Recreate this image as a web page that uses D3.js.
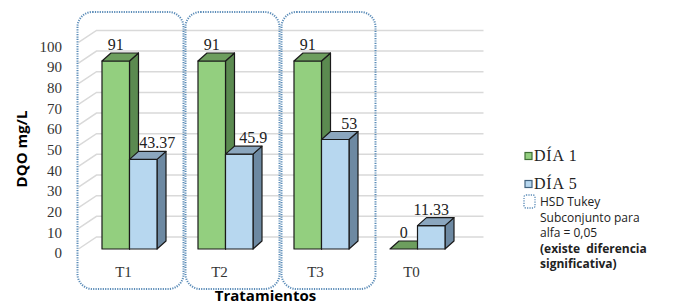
<!DOCTYPE html>
<html>
<head>
<meta charset="utf-8">
<script src="https://cdn.jsdelivr.net/npm/d3@7"></script>
<style>
  html, body { margin: 0; padding: 0; background: #fff; }
  svg { display: block; }
</style>
</head>
<body>
<div id="chart"></div>
<script>
// data
var categories = ["T1", "T2", "T3", "T0"];
var seriesNames = ["DÍA 1", "DÍA 5"];
var dia1 = [91, 91, 91, 0];
var dia5 = [43.37, 45.9, 53, 11.33];
var yTicks = [0, 10, 20, 30, 40, 50, 60, 70, 80, 90, 100];
var tukeyGroups = ["T1", "T2", "T3"];
var noteLines = ["HSD Tukey", "Subconjunto para", "alfa = 0,05", "(existe  diferencia", "significativa)"];

var width = 678, height = 306;
var serif = "'Liberation Serif', 'Times New Roman', serif";
var sans = "'Open Sans', 'Liberation Sans', sans-serif";

var colors = {
    front: ["#93cf7f", "#b7d7ef"],
    top: ["#6d9e5e", "#8ba6be"],
    side: ["#5b8a50", "#6d89a2"]
};

// 3d offsets
var floorDx = 18, floorDy = -12;
var barDx = 9, barDy = -8;

var svg = d3.select("#chart").append("svg").attr("width", width).attr("height", height);

var x = d3.scaleBand().domain(categories).range([81.5, 465.5]).paddingInner(0.427).paddingOuter(0.2135);
var xs = d3.scaleBand().domain(seriesNames).range([0, x.bandwidth()]);
var y = d3.scaleLinear().domain([0, 100]).range([249, 42.4]);

// back wall / floor grid
var grid = svg.append("g");
var gx0 = x.range()[0] - 3;
yTicks.forEach(function(t) {
    var yy = y(t);
    grid.append("polyline")
        .attr("points", [[gx0, yy], [gx0 + floorDx, yy + floorDy], [x.range()[1] + floorDx, yy + floorDy]].join(" "))
        .attr("fill", "none")
        .attr("stroke", "#d9d9d9")
        .attr("stroke-width", 1.5);
});

// tick labels
svg.append("g").selectAll("text").data(yTicks).join("text")
    .attr("x", 62)
    .attr("y", function(d) { return y(d) + 6; })
    .attr("text-anchor", "end")
    .attr("dominant-baseline", "middle")
    .attr("font-family", serif)
    .attr("font-size", 15)
    .attr("fill", "#333")
    .text(function(d) { return d; });

// bars
var bars = svg.append("g");
categories.forEach(function(c, i) {
    var vals = [dia1[i], dia5[i]];
    seriesNames.forEach(function(s, k) {
        var v = vals[k];
        var x0 = x(c) + xs(s), x1 = x0 + xs.bandwidth();
        var y0 = y(0), y1 = y(v);
        var g = bars.append("g").attr("stroke", "#1a1a1a").attr("stroke-width", 1.2).attr("stroke-linejoin", "round");
        if (v > 0) {
            g.append("polygon")
                .attr("points", [[x1, y1], [x1 + barDx, y1 + barDy], [x1 + barDx, y0 + barDy], [x1, y0]].join(" "))
                .attr("fill", colors.side[k]);
            g.append("rect")
                .attr("x", x0).attr("y", y1)
                .attr("width", x1 - x0).attr("height", y0 - y1)
                .attr("fill", colors.front[k]);
        }
        g.append("polygon")
            .attr("points", [[x0, y1], [x0 + barDx, y1 + barDy], [x1 + barDx, y1 + barDy], [x1, y1]].join(" "))
            .attr("fill", colors.top[k]);

        // value label, nudged right if the bar in front of it is taller
        var shift = (k > 0 && vals[k - 1] > v) ? barDx + 5 : 0;
        bars.append("text")
            .attr("x", (x0 + x1) / 2 + shift)
            .attr("y", y1 + barDy - 3)
            .attr("text-anchor", "middle")
            .attr("font-family", serif)
            .attr("font-size", 16)
            .attr("fill", "#222")
            .text(v);
    });
});

// category labels
svg.append("g").selectAll("text").data(categories).join("text")
    .attr("x", function(d) { return x(d) + x.bandwidth() / 2 - 6; })
    .attr("y", 277)
    .attr("text-anchor", "middle")
    .attr("font-family", serif)
    .attr("font-size", 15)
    .attr("fill", "#333")
    .text(function(d) { return d; });

// Tukey subset boxes
var step = x.step(), halfGap = step * 0.2135;
svg.append("g").selectAll("rect").data(tukeyGroups).join("rect")
    .attr("x", function(d, i) { return i === 0 ? x(d) - halfGap - 4 : x(d) - halfGap + 8; })
    .attr("y", 12)
    .attr("width", function(d, i) {
        var left = i === 0 ? x(d) - halfGap - 4 : x(d) - halfGap + 8;
        return x(d) + x.bandwidth() + halfGap + 6 - left;
    })
    .attr("height", 277)
    .attr("rx", 15).attr("ry", 15)
    .attr("fill", "none")
    .attr("stroke", "#5b8cb8")
    .attr("stroke-width", 2)
    .attr("stroke-dasharray", "1.2,1.2");

// axis titles
svg.append("text")
    .attr("transform", "translate(27,149) rotate(-90)")
    .attr("text-anchor", "middle")
    .attr("font-family", sans)
    .attr("font-weight", "bold")
    .attr("font-size", 15)
    .attr("fill", "#000")
    .text("DQO mg/L");

svg.append("text")
    .attr("x", 265.5)
    .attr("y", 301)
    .attr("text-anchor", "middle")
    .attr("font-family", sans)
    .attr("font-weight", "bold")
    .attr("font-size", 15)
    .attr("fill", "#000")
    .text("Tratamientos");

// legend
var legend = svg.append("g");
var legendBorder = ["#3f6e35", "#41627e"];
seriesNames.forEach(function(s, k) {
    var ly = 156 + k * 28;
    legend.append("rect")
        .attr("x", 525).attr("y", ly - 3.5)
        .attr("width", 7).attr("height", 7)
        .attr("fill", colors.front[k])
        .attr("stroke", legendBorder[k])
        .attr("stroke-width", 1.2);
    legend.append("text")
        .attr("x", 534).attr("y", ly + 5)
        .attr("font-family", serif)
        .attr("font-size", 16)
        .attr("letter-spacing", 0.8)
        .attr("fill", "#222")
        .text(s);
});

legend.append("rect")
    .attr("x", 524).attr("y", 195)
    .attr("width", 11).attr("height", 13)
    .attr("rx", 2)
    .attr("fill", "none")
    .attr("stroke", "#5b8cb8")
    .attr("stroke-width", 1.3)
    .attr("stroke-dasharray", "1.2,1.2");

legend.selectAll("text.note").data(noteLines).join("text")
    .attr("class", "note")
    .attr("x", 540)
    .attr("y", function(d, i) { return 206 + i * 15.5; })
    .attr("font-family", sans)
    .attr("font-size", 12)
    .attr("font-weight", function(d, i) { return i >= 3 ? "bold" : "normal"; })
    .attr("fill", "#222")
    .style("white-space", "pre")
    .text(function(d) { return d; });
</script>
</body>
</html>
